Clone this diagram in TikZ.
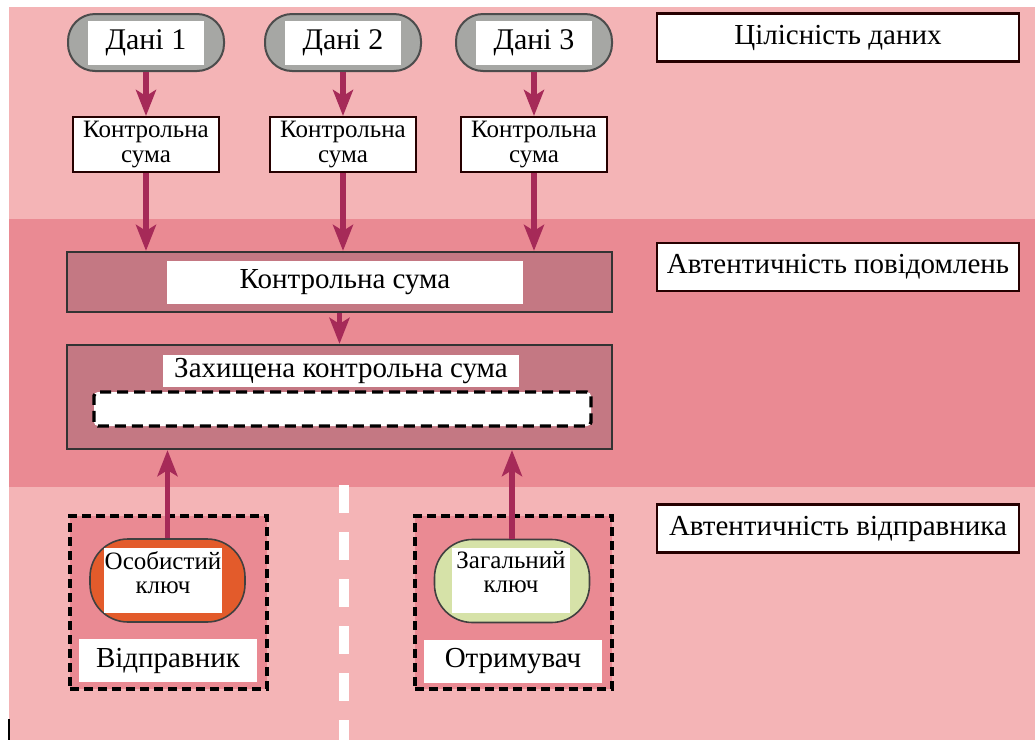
\documentclass[tikz,border=0pt]{standalone}
\usepackage{fontspec}
\setmainfont{Liberation Serif}
\usetikzlibrary{arrows.meta,positioning}

\definecolor{BandLight}{RGB}{244,180,182}
\definecolor{BandDark}{RGB}{234,138,147}
\definecolor{SumFill}{RGB}{196,120,131}
\definecolor{ArrowRed}{RGB}{166,42,88}
\definecolor{DataGray}{RGB}{166,167,164}
\definecolor{KeyOrange}{RGB}{227,91,43}
\definecolor{KeyGreen}{RGB}{214,226,168}

\begin{document}
\begin{tikzpicture}[
		% one unit is one pixel of the reference, y going down
		x=0.5pt, y=-0.5pt,
		flow/.style={-{Stealth[length=13pt,width=10pt,inset=3pt]}, ArrowRed, line width=2.6pt},
		datapill/.style={draw=black!70, line width=1pt, fill=DataGray, rounded corners=13.5pt, minimum width=78pt, minimum height=28.5pt},
		datatag/.style={fill=white, inner sep=0pt, minimum width=58pt, minimum height=22pt, font=\fontsize{15}{17}\selectfont},
		sumsmall/.style={draw=black!85!red, line width=1pt, fill=white, inner sep=0pt, minimum width=73pt, minimum height=27.5pt, align=center, font=\fontsize{12.5}{12.5}\selectfont},
		sumbig/.style={draw=black!80, line width=1.1pt, fill=SumFill, minimum width=272.5pt},
		whitetag/.style={fill=white, inner sep=0pt, font=\fontsize{14.5}{17}\selectfont},
		sealslot/.style={draw=black, line width=1.7pt, dash pattern=on 5.5pt off 3pt, fill=white, rounded corners=2pt, minimum width=248.5pt, minimum height=17pt},
		layertag/.style={draw=black!85!red, line width=1.2pt, fill=white, minimum width=181pt, minimum height=24pt, font=\fontsize{14.5}{17}\selectfont},
		partybox/.style={draw=black, line width=1.7pt, dash pattern=on 4.5pt off 2.5pt, fill=BandDark, minimum width=98.5pt, minimum height=86.5pt},
		keypill/.style={draw=black!75, line width=0.8pt, rounded corners=19pt, minimum width=77.5pt, minimum height=41.5pt},
		keytag/.style={fill=white, inner sep=0pt, minimum width=59pt, minimum height=32.5pt},
		keytext/.style={inner sep=0pt, align=center, font=\fontsize{12.5}{12}\selectfont},
		partytag/.style={fill=white, inner sep=0pt, minimum width=89pt, minimum height=21.5pt, font=\fontsize{14.5}{17}\selectfont}
	]
	\useasboundingbox (0,0) rectangle (1035,740);
	% the three layers
	\fill[BandLight] (9,7) rectangle (1035,219);
	\fill[BandDark] (9,219) rectangle (1035,487);
	\fill[BandLight] (9,487) rectangle (1035,740);
	\draw[white, line width=5pt, dash pattern=on 14pt off 9.5pt] (344,485) -- (344,740);
	\draw[black, line width=0.6pt] (9,719) -- (9,740);
	
	\node[layertag] (integrity) at (838,37.5) {Цілісність даних};
	\node[layertag] (msgauth) at (838,267) {Автентичність повідомлень};
	\node[layertag] (senderauth) at (838,528.5) {Автентичність відправника};
	
	\foreach \n/\x in {1/146,2/343,3/534}{
		\node[datapill] (data\n) at (\x,42.5) {};
		\node[datatag] at (data\n) {Дані \n};
		\node[sumsmall] (sum\n) at (\x,144.5) {Контрольна\\сума};
		\draw[flow] (data\n) -- (sum\n);
	}
	
	\node[sumbig, minimum height=30pt] (checksum) at (339.5,282) {};
	\node[whitetag, minimum width=178pt, minimum height=21.5pt] (checksumtag) at (345,282.5) {Контрольна сума};
	\node[sumbig, minimum height=52pt] (sealed) at (339.5,397) {};
	\node[whitetag, minimum width=178pt, minimum height=16pt] (sealedtag) at (341,371) {Захищена контрольна сума};
	\node[sealslot] (slot) at (342.5,409) {};
	
	\foreach \n in {1,2,3}
		\draw[flow] (sum\n) -- (sum\n |- checksum.north);
	\draw[flow] (checksum) -- (sealed);
	
	% sender and receiver
	\node[partybox] (sender) at (168.5,602.5) {};
	\node[partybox] (receiver) at (513.5,602.5) {};
	\node[keypill, fill=KeyOrange] (privkey) at (167.5,580.5) {};
	\node[keytag] (privtag) at (163,580.5) {};
	\node[keytext, below=2pt of privtag.north] {Особистий\\ключ};
	\node[keypill, fill=KeyGreen] (pubkey) at (512,581) {};
	\node[keytag] (pubtag) at (511,580) {};
	\node[keytext, below=2pt of pubtag.north] {Загальний\\ключ};
	\node[partytag] at (168,660.5) {Відправник};
	\node[partytag] at (513,661.5) {Отримувач};
	\draw[flow] (privkey) -- (privkey |- sealed.south);
	\draw[flow] (pubkey) -- (pubkey |- sealed.south);
\end{tikzpicture}
\end{document}
